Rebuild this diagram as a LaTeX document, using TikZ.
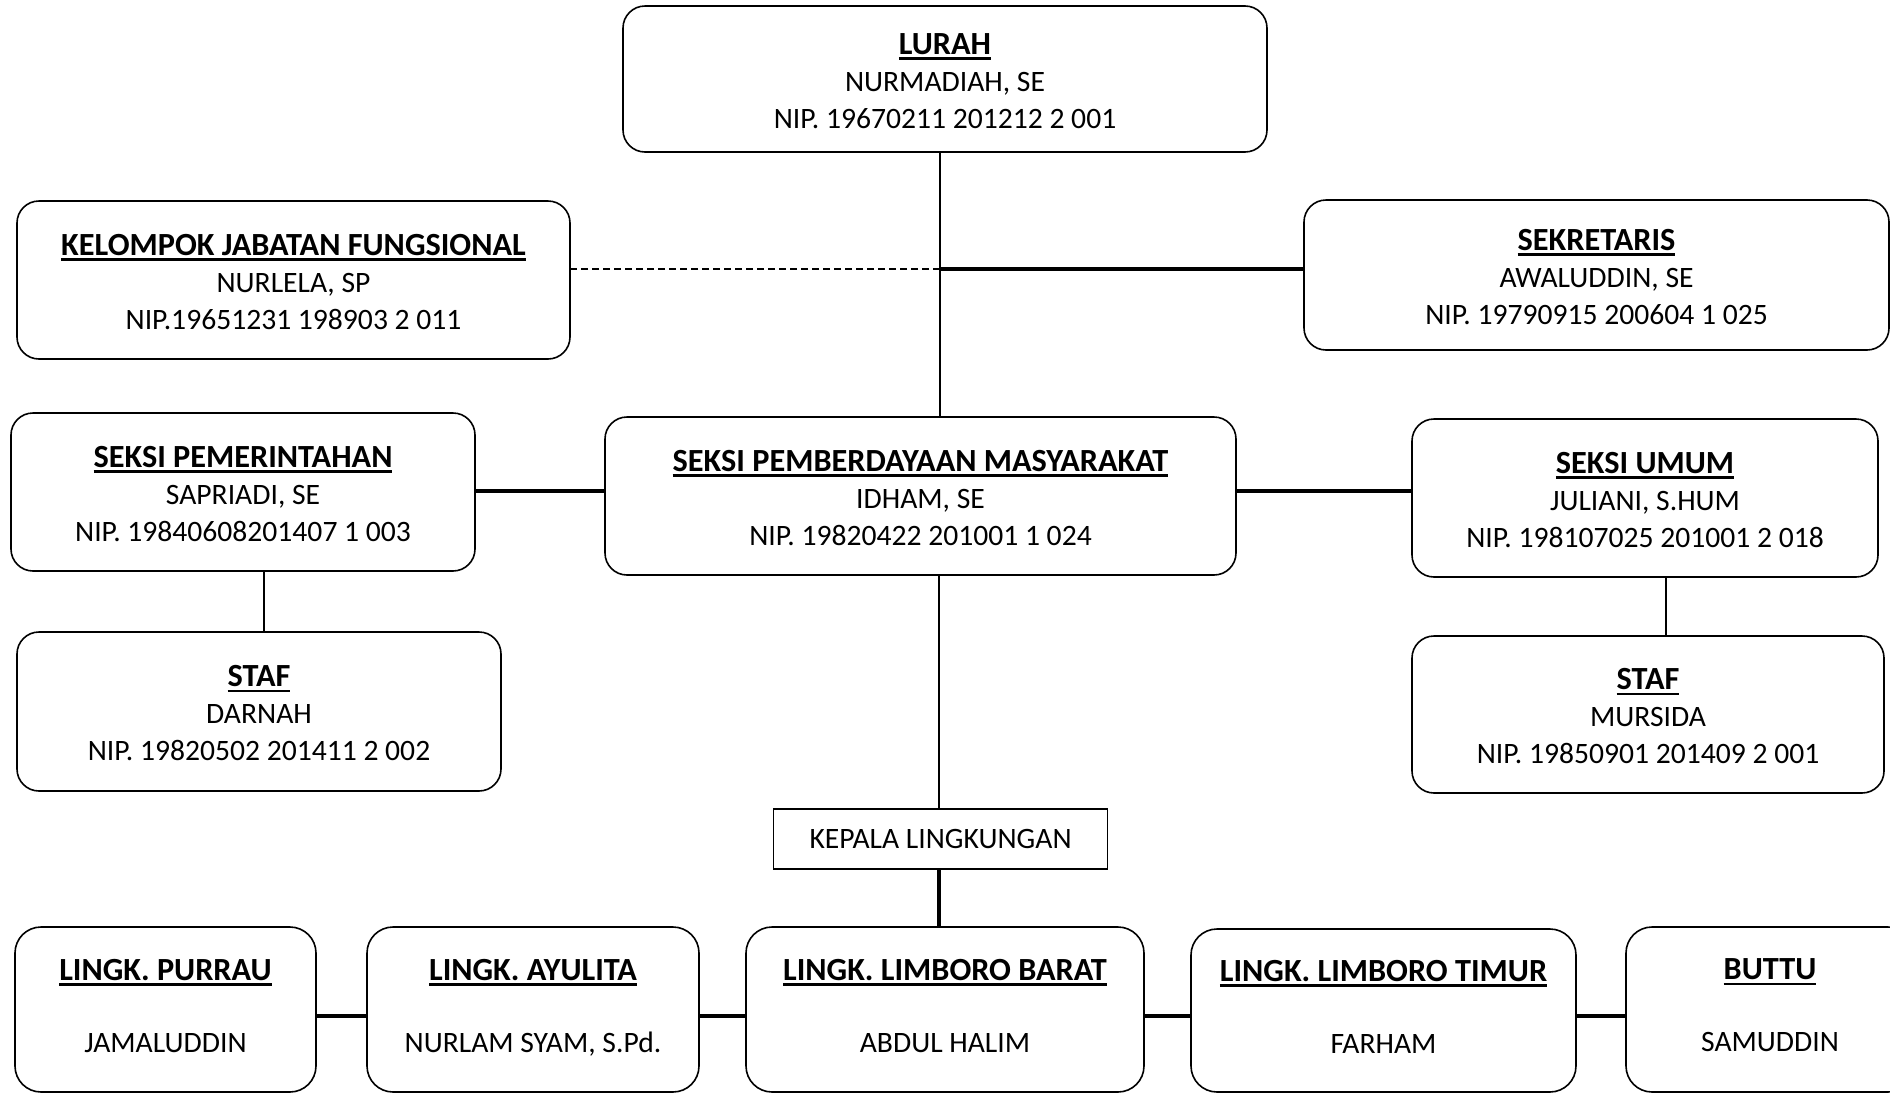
\documentclass[tikz,border=0pt]{standalone}
\usepackage{fontspec}
\setmainfont{Carlito}
\newcommand\ulbox[1]{\setbox0\hbox{#1}\rlap{\rule[-5.5pt]{\wd0}{2.6pt}}\box0}
\newcommand\ttl[1]{{\fontsize{32.3}{37}\selectfont\bfseries\rule{0pt}{25pt}\ulbox{#1}}}
\newcommand\btl[1]{{\fontsize{32.3}{37}\selectfont\bfseries\ulbox{#1}}}
\newcommand\dpt{\rule[-8pt]{0pt}{8pt}}
\begin{document}
\begin{tikzpicture}[x=1pt,y=-1pt,
  box/.style={draw, rounded corners=22pt, line width=1.6pt, align=center, inner sep=0pt,
    font=\fontsize{29.6}{37}\selectfont},
  lbox/.style={box, rounded corners=26pt},
  plainbox/.style={draw, line width=1.6pt, align=center, inner sep=0pt, font=\fontsize{29.6}{37}\selectfont},
  vline/.style={line width=2.5pt},
  hline/.style={line width=3.5pt},
  bline/.style={line width=4pt},
  dashline/.style={line width=2pt, dash pattern=on 7pt off 4pt}]
\useasboundingbox (0,0) rectangle (1890,1093);
\clip (0,0) rectangle (1890,1093);
\node[box, minimum width=644pt, minimum height=146pt] (LURAH) at (945,79)
  {\ttl{LURAH}\\NURMADIAH, SE\\NIP. 19670211 201212 2 001};
\node[box, minimum width=553pt, minimum height=158pt] (KJF) at (293.5,280)
  {\ttl{KELOMPOK JABATAN FUNGSIONAL}\\NURLELA, SP\\NIP.19651231 198903 2 011};
\node[box, minimum width=585pt, minimum height=150pt] (SEK) at (1596.5,275)
  {\ttl{SEKRETARIS}\\AWALUDDIN, SE\\NIP. 19790915 200604 1 025};
\node[box, minimum width=464pt, minimum height=158pt] (SP) at (243,492)
  {\ttl{SEKSI PEMERINTAHAN}\\SAPRIADI, SE\\NIP. 19840608201407 1 003};
\node[box, minimum width=631pt, minimum height=158pt] (SPM) at (920.5,496)
  {\ttl{SEKSI PEMBERDAYAAN MASYARAKAT}\\IDHAM, SE\\NIP. 19820422 201001 1 024};
\node[box, minimum width=466pt, minimum height=158pt] (SU) at (1645,498)
  {\ttl{SEKSI UMUM}\\JULIANI, S.HUM\\NIP. 198107025 201001 2 018};
\node[box, minimum width=484pt, minimum height=159pt] (STAFL) at (259,711.5)
  {\ttl{STAF}\\DARNAH\\NIP. 19820502 201411 2 002};
\node[box, minimum width=472pt, minimum height=157pt] (STAFR) at (1648,714.5)
  {\ttl{STAF}\\MURSIDA\\NIP. 19850901 201409 2 001};
\node[plainbox, minimum width=334pt, minimum height=60pt] (KL) at (940.5,839)
  {KEPALA LINGKUNGAN};
\node[lbox, minimum width=301pt, minimum height=165pt] (PUR) at (165.5,1009.5)
  {\btl{LINGK. PURRAU}\\[35pt]JAMALUDDIN\dpt};
\node[lbox, minimum width=332pt, minimum height=165pt] (AYU) at (533,1009.5)
  {\btl{LINGK. AYULITA}\\[35pt]NURLAM SYAM, S.Pd.\dpt};
\node[lbox, minimum width=398pt, minimum height=165pt] (LB) at (945,1009.5)
  {\btl{LINGK. LIMBORO BARAT}\\[35pt]ABDUL HALIM\dpt};
\node[lbox, minimum width=385pt, minimum height=163pt] (LT) at (1383.5,1010.5)
  {\btl{LINGK. LIMBORO TIMUR}\\[35pt]FARHAM\dpt};
\node[lbox, minimum width=288pt, minimum height=165pt] (BUT) at (1770,1009.5)
  {\btl{BUTTU}\\[35pt]SAMUDDIN\dpt};
% connectors
\coordinate (trunk) at (940,269);
\coordinate (mid) at (940,491);
\coordinate (sl) at (264,0);
\coordinate (sr) at (1666,0);
\coordinate (kl) at (939,0);
\coordinate (bot) at (0,1016);
\draw[vline] (LURAH.south -| trunk) -- (SPM.north -| trunk);
\draw[dashline] (trunk) -- (trunk -| KJF.east);
\draw[hline] (trunk) -- (trunk -| SEK.west);
\draw[hline] (mid -| SP.east) -- (mid -| SPM.west);
\draw[hline] (mid -| SPM.east) -- (mid -| SU.west);
\draw[vline] (SP.south -| sl) -- (STAFL.north -| sl);
\draw[vline] (SU.south -| sr) -- (STAFR.north -| sr);
\draw[vline] (SPM.south -| kl) -- (KL.north -| kl);
\draw[bline] (KL.south -| kl) -- (LB.north -| kl);
\draw[bline] (bot -| PUR.east) -- (bot -| AYU.west);
\draw[bline] (bot -| AYU.east) -- (bot -| LB.west);
\draw[bline] (bot -| LB.east) -- (bot -| LT.west);
\draw[bline] (bot -| LT.east) -- (bot -| BUT.west);
\end{tikzpicture}
\end{document}
